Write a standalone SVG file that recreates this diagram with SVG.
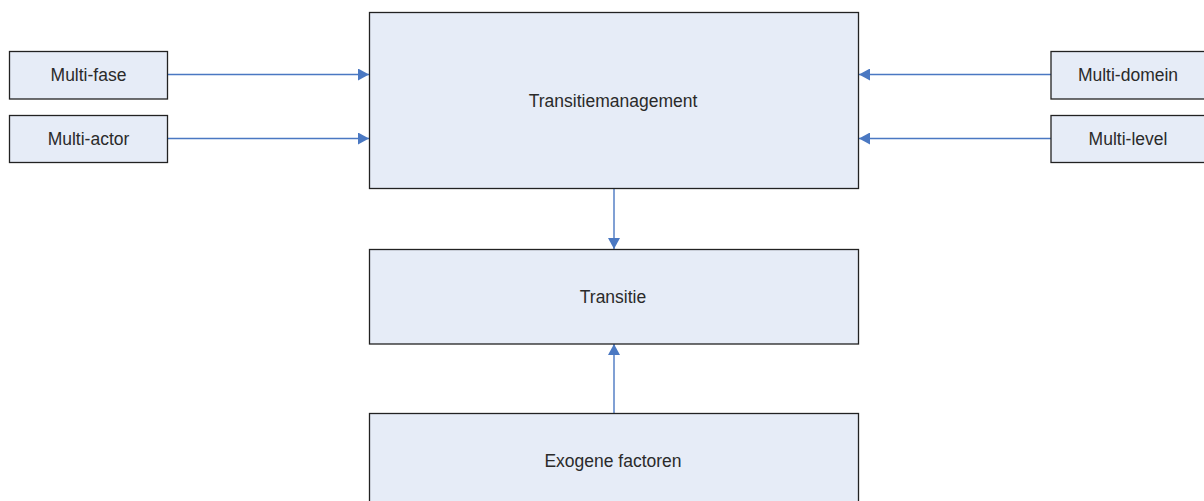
<svg xmlns="http://www.w3.org/2000/svg" width="1204" height="501" viewBox="0 0 1204 501">
<defs>
<style>
.box{fill:#e6ecf7;stroke:#222;stroke-width:1.3}
.lbl{font-family:"Liberation Sans",Arial,sans-serif;font-size:17.5px;fill:#2a2a2a;text-anchor:middle;dominant-baseline:central}
.con{stroke:#4a78c2;stroke-width:1.4;fill:none}
</style>
<marker id="ah" viewBox="0 0 11 12" refX="11" refY="6" markerWidth="11" markerHeight="12" markerUnits="userSpaceOnUse" orient="auto">
<path d="M0,0 L11,6 L0,12 z" fill="#4a78c2"/>
</marker>
</defs>
<g id="connectors">
<path class="con" d="M167.5,74.5 H369" marker-end="url(#ah)"/>
<path class="con" d="M167.5,138.5 H369" marker-end="url(#ah)"/>
<path class="con" d="M1051,74.5 H859" marker-end="url(#ah)"/>
<path class="con" d="M1051,138.5 H859" marker-end="url(#ah)"/>
<path class="con" d="M614,189 V249" marker-end="url(#ah)"/>
<path class="con" d="M614,413 V344" marker-end="url(#ah)"/>
</g>
<g id="multi-fase"><rect class="box" x="9.5" y="51.5" width="158" height="47.5"/><text class="lbl" x="88.5" y="75">Multi-fase</text></g>
<g id="multi-actor"><rect class="box" x="9.5" y="115.5" width="158" height="47"/><text class="lbl" x="88.5" y="138.5">Multi-actor</text></g>
<g id="transitiemanagement"><rect class="box" x="369.5" y="12.5" width="489" height="176"/><text class="lbl" x="613" y="100.5">Transitiemanagement</text></g>
<g id="multi-domein"><rect class="box" x="1051" y="51.5" width="155" height="47.5"/><text class="lbl" x="1128" y="75">Multi-domein</text></g>
<g id="multi-level"><rect class="box" x="1051" y="115.5" width="155" height="47"/><text class="lbl" x="1128" y="138.5">Multi-level</text></g>
<g id="transitie"><rect class="box" x="369.5" y="249.5" width="489" height="94.5"/><text class="lbl" x="613" y="296.5">Transitie</text></g>
<g id="exogene-factoren"><rect class="box" x="369.5" y="413.5" width="489" height="100"/><text class="lbl" x="613" y="460.5">Exogene factoren</text></g>
</svg>
